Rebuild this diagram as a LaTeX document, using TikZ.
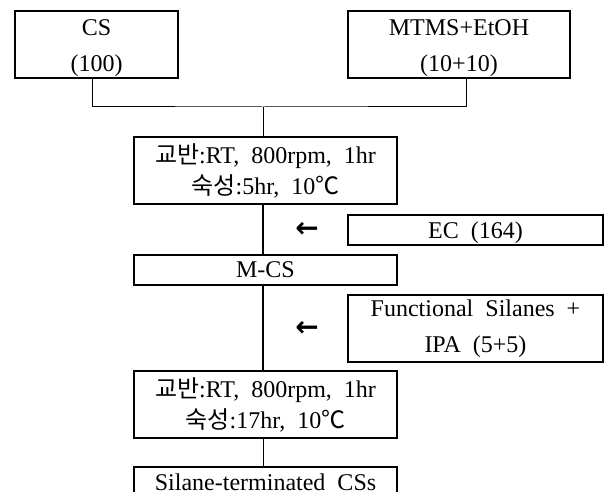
\documentclass[tikz,border=0pt]{standalone}
\usepackage{fontspec}
\setmainfont{Liberation Serif}[WordSpace=2]
\newfontfamily\krfont{Noto Sans CJK KR}
\newfontfamily\symfont{DejaVu Sans}
\usetikzlibrary{positioning}
\newcommand{\toppad}{\rule{0pt}{12pt}}

\begin{document}
\begin{tikzpicture}[
        x=0.5pt, y=-0.5pt,
        font=\fontsize{12}{18}\selectfont,
        tallbox/.style={rectangle, draw, line width=0.6pt, inner sep=0pt, align=center, minimum height=33.5pt},
        mixbox/.style={tallbox, minimum width=131.5pt, font=\fontsize{12}{15.5}\selectfont},
        flatbox/.style={rectangle, draw, line width=0.6pt, inner sep=0pt, align=center, minimum height=15pt, text depth=-1.5pt},
        feed/.style={inner sep=0pt, font=\symfont\bfseries\fontsize{14}{14}\selectfont},
        link/.style={line width=0.5pt},
        spine/.style={line width=0.8pt}
    ]
        \useasboundingbox (0,0) rectangle (606,492);
        \clip (0,0) rectangle (606,492);

        % Row 1: raw materials
        \node (cs) [tallbox, minimum width=81.5pt] at (96.5,44.5) {\toppad CS\\(100)};
        \node (mtms) [tallbox, minimum width=111pt] at (459,44.5) {\toppad MTMS+EtOH\\(10+10)};
        \coordinate (join) at (263,107);

        % Column: process steps
        \node (mix1) [mixbox] at (265.5,170.5) {{\krfont 교반}:RT, 800rpm, 1hr\\{\krfont 숙성}:5hr, 10{\krfont ℃}};
        \node (mcs) [flatbox, minimum width=131.5pt] at (265.5,270) {M-CS};
        \node (mix2) [mixbox] at (265.5,404.5) {{\krfont 교반}:RT, 800rpm, 1hr\\{\krfont 숙성}:17hr, 10{\krfont ℃}};
        \node (stcs) [flatbox, minimum width=131.5pt] at (265.5,482) {Silane-terminated CSs};

        % Additions
        \node (ec) [flatbox, minimum width=127.5pt] at (475.5,230) {EC (164)};
        \node (fs) [tallbox, minimum width=127.5pt] at (475.5,328.5) {Functional Silanes +\\IPA (5+5)};
        \node (ecarrow) [feed] at (307,230) {←};
        \node (fsarrow) [feed] at (307,329) {←};

        % Connecting lines
        \draw [link] ([xshift=-2.25pt]cs.south) |- (join) -| ([xshift=3.5pt]mtms.south);
        \draw [link] (join) -- (join |- mix1.north);
        \draw [spine] (join |- mix1.south) -- (join |- mcs.north);
        \draw [spine] (join |- mcs.south) -- (join |- mix2.north);
        \draw [link] (join |- mix2.south) -- (join |- stcs.north);
\end{tikzpicture}
\end{document}
